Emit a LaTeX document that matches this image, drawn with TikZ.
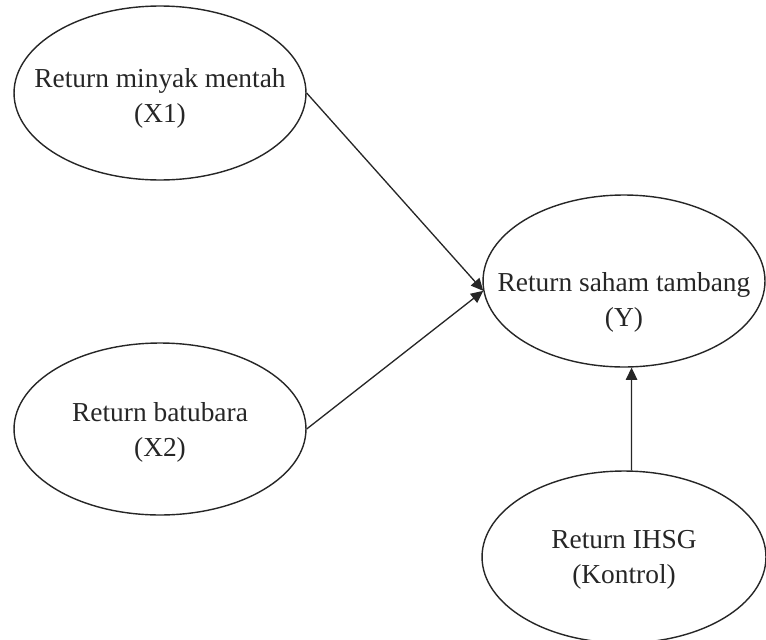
\documentclass[tikz,border=0pt]{standalone}
\usepackage{fontspec}
\setmainfont{Liberation Serif}
\usetikzlibrary{arrows.meta,shapes.geometric}
\tikzset{
  varnode/.style={draw=black!85,ellipse,line width=0.8pt,inner sep=0pt},
  varlabel/.style={align=center,font=\fontsize{15.6}{20}\selectfont,inner sep=0pt,text=black!85},
  link/.style={-{Triangle[length=7pt,width=6.5pt]},draw=black!85,line width=0.75pt}
}
\begin{document}
\begin{tikzpicture}[x=0.02cm,y=-0.02cm]
\clip (0,0) rectangle (766,639);
\node[varnode,minimum width=5.84cm,minimum height=3.48cm] (X1) at (160,93) {};
\node[varnode,minimum width=5.84cm,minimum height=3.44cm] (X2) at (160,429) {};
\node[varnode,minimum width=5.64cm,minimum height=3.44cm] (Y) at (624,281) {};
\node[varnode,minimum width=5.68cm,minimum height=3.44cm] (K) at (624,557) {};
\node[varlabel] (X1txt) at (160,98) {Return minyak mentah\\(X1)};
\node[varlabel] (X2txt) at (160,432) {Return batubara\\(X2)};
\node[varlabel] (Ytxt) at (624,302) {Return saham tambang\\(Y)};
\node[varlabel] (Ktxt) at (624,560) {Return IHSG\\(Kontrol)};
\draw[link] (X1.east) -- (Y.184);
\draw[link] (X2.east) -- (Y.184);
\draw[link] (K.85) -- (Y.275);
\end{tikzpicture}
\end{document}
